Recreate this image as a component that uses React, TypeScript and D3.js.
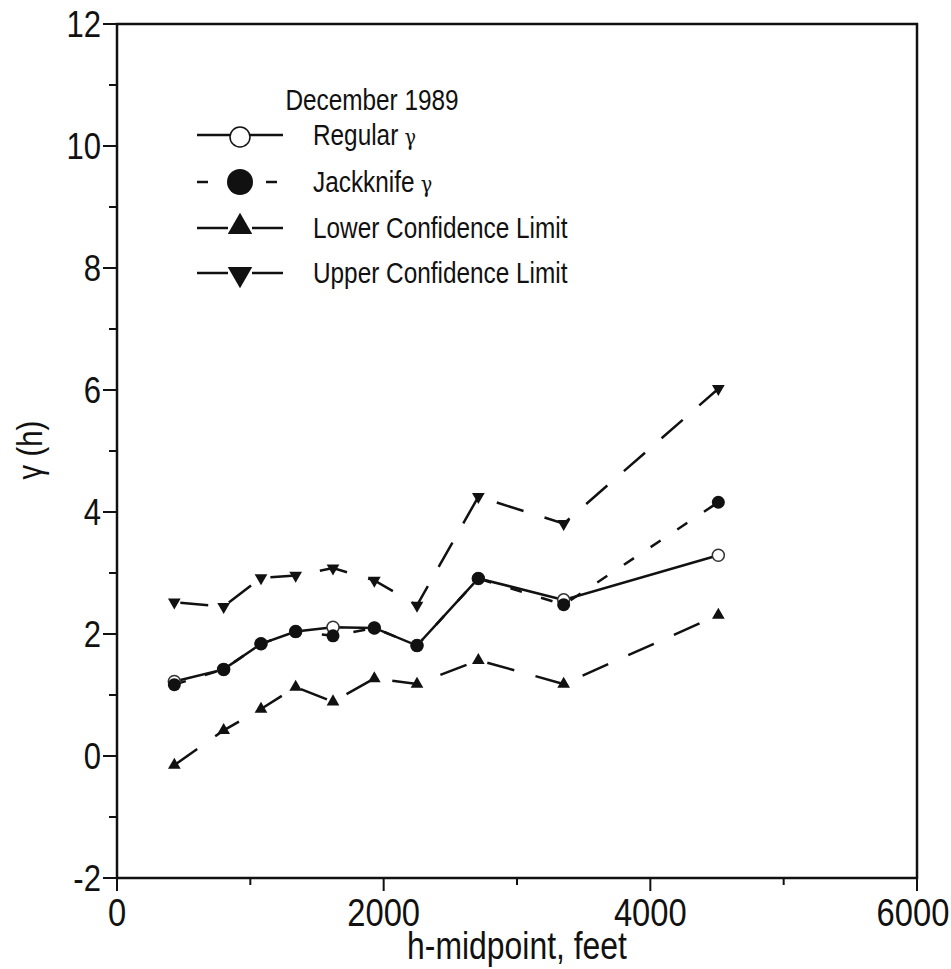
import React, { useEffect, useRef } from 'react';
import * as d3 from 'd3';

// h-midpoint (feet) for each lag class
const hMid = [430, 800, 1080, 1340, 1620, 1930, 2250, 2710, 3350, 4510];
const regularGamma = [1.22, 1.42, 1.84, 2.04, 2.11, 2.1, 1.81, 2.91, 2.56, 3.29];
const jackknifeGamma = [1.17, 1.42, 1.84, 2.04, 1.97, 2.1, 1.81, 2.91, 2.48, 4.16];
const lowerLimit = [-0.15, 0.42, 0.77, 1.13, 0.89, 1.27, 1.18, 1.57, 1.18, 2.31];
const upperLimit = [2.52, 2.45, 2.92, 2.96, 3.08, 2.88, 2.47, 4.25, 3.81, 6.02];

const xTicks = [0, 2000, 4000, 6000];
const xMinor = [1000, 3000, 5000];
const yTicks = [-2, 0, 2, 4, 6, 8, 10, 12];
const yMinor = [-1, 1, 3, 5, 7, 9, 11];

const legendItems = ['Regular', 'Jackknife', 'Lower Confidence Limit', 'Upper Confidence Limit'];

const FONT = '"Liberation Sans", Arial, sans-serif';
const SQUEEZE = 0.84; // the original lettering is condensed

function App() {
  const ref = useRef<SVGSVGElement>(null);

  useEffect(() => {
    document.body.style.margin = '0';
    const svg = d3.select(ref.current);
    svg.selectAll('*').remove();

    const x = d3.scaleLinear().domain([0, 6000]).range([117, 917]);
    const y = d3.scaleLinear().domain([-2, 12]).range([878, 24]);

    const g = svg.append('g');

    // narrow text helper
    const label = (parent: any, tx: number, ty: number, txt: string, size: number, anchor = 'start', rot = 0) =>
      parent.append('text')
        .attr('transform', `translate(${tx},${ty}) rotate(${rot}) scale(${SQUEEZE},1)`)
        .attr('text-anchor', anchor)
        .attr('font-family', FONT).attr('font-size', size).attr('fill', '#111')
        .text(txt);

    // frame
    g.append('rect')
      .attr('x', x(0)).attr('y', y(12))
      .attr('width', x(6000) - x(0)).attr('height', y(-2) - y(12))
      .attr('fill', 'none').attr('stroke', '#111').attr('stroke-width', 2.5);

    // x ticks
    g.selectAll('.xt').data(xTicks).enter().append('line')
      .attr('x1', d => x(d)).attr('x2', d => x(d))
      .attr('y1', y(-2)).attr('y2', y(-2) + 13)
      .attr('stroke', '#111').attr('stroke-width', 2);
    g.selectAll('.xm').data(xMinor).enter().append('line')
      .attr('x1', d => x(d)).attr('x2', d => x(d))
      .attr('y1', y(-2)).attr('y2', y(-2) + 7)
      .attr('stroke', '#111').attr('stroke-width', 2);
    xTicks.forEach(d => label(g, d === 6000 ? x(d) - 4 : x(d), 926, String(d), 39, 'middle'));

    // y ticks
    g.selectAll('.yt').data(yTicks).enter().append('line')
      .attr('x1', x(0) - 14).attr('x2', x(0))
      .attr('y1', d => y(d)).attr('y2', d => y(d))
      .attr('stroke', '#111').attr('stroke-width', 2);
    g.selectAll('.ym').data(yMinor).enter().append('line')
      .attr('x1', x(0) - 8).attr('x2', x(0))
      .attr('y1', d => y(d)).attr('y2', d => y(d))
      .attr('stroke', '#111').attr('stroke-width', 2);
    yTicks.forEach(d => label(g, 101, y(d) + 13, String(d), 37, 'end'));

    // axis titles
    label(g, 517, 959, 'h-midpoint, feet', 38, 'middle');
    label(g, 42, 450, '\u03b3 (h)', 35, 'middle', -90);

    const pts = (vals: number[]) => hMid.map((h, i) => [x(h), y(vals[i])] as [number, number]);
    const line = d3.line();

    // series lines
    g.append('path').attr('d', line(pts(upperLimit)))
      .attr('fill', 'none').attr('stroke', '#111').attr('stroke-width', 2.5)
      .attr('stroke-dasharray', '28 22').attr('stroke-dashoffset', -6);
    g.append('path').attr('d', line(pts(lowerLimit)))
      .attr('fill', 'none').attr('stroke', '#111').attr('stroke-width', 2.5)
      .attr('stroke-dasharray', '28 22');
    g.append('path').attr('d', line(pts(jackknifeGamma)))
      .attr('fill', 'none').attr('stroke', '#111').attr('stroke-width', 2.5)
      .attr('stroke-dasharray', '12 20');
    g.append('path').attr('d', line(pts(regularGamma)))
      .attr('fill', 'none').attr('stroke', '#111').attr('stroke-width', 2.5);

    // markers
    const triUp = d3.symbol().type(d3.symbolTriangle).size(70);
    g.selectAll('.lo').data(pts(lowerLimit)).enter().append('path')
      .attr('d', triUp()).attr('transform', d => `translate(${d[0]},${d[1]})`)
      .attr('fill', '#111');
    g.selectAll('.up').data(pts(upperLimit)).enter().append('path')
      .attr('d', triUp()).attr('transform', d => `translate(${d[0]},${d[1]}) rotate(180)`)
      .attr('fill', '#111');
    g.selectAll('.rg').data(pts(regularGamma)).enter().append('circle')
      .attr('cx', d => d[0]).attr('cy', d => d[1]).attr('r', 6)
      .attr('fill', 'white').attr('stroke', '#333').attr('stroke-width', 1.5);
    g.selectAll('.jk').data(pts(jackknifeGamma)).enter().append('circle')
      .attr('cx', d => d[0]).attr('cy', d => d[1]).attr('r', 6.5)
      .attr('fill', '#111');

    // legend
    const lg = g.append('g');
    label(lg, 372, 110, 'December 1989', 29, 'middle');

    const rowY = [135, 182, 228, 273];
    const mx = 240;
    legendItems.forEach((name, i) => {
      const ry = rowY[i];
      if (i === 0) {
        lg.append('line').attr('x1', 197).attr('x2', 283).attr('y1', ry).attr('y2', ry)
          .attr('stroke', '#111').attr('stroke-width', 2.5);
        lg.append('circle').attr('cx', mx).attr('cy', ry + 2).attr('r', 10)
          .attr('fill', 'white').attr('stroke', '#111').attr('stroke-width', 1.5);
      } else if (i === 1) {
        lg.append('line').attr('x1', 197).attr('x2', 208).attr('y1', ry).attr('y2', ry)
          .attr('stroke', '#111').attr('stroke-width', 2.5);
        lg.append('line').attr('x1', 266).attr('x2', 277).attr('y1', ry).attr('y2', ry)
          .attr('stroke', '#111').attr('stroke-width', 2.5);
        lg.append('circle').attr('cx', mx).attr('cy', ry).attr('r', 13).attr('fill', '#111');
      } else {
        lg.append('line').attr('x1', 197).attr('x2', 228).attr('y1', ry).attr('y2', ry)
          .attr('stroke', '#111').attr('stroke-width', 2.5);
        lg.append('line').attr('x1', 252).attr('x2', 283).attr('y1', ry).attr('y2', ry)
          .attr('stroke', '#111').attr('stroke-width', 2.5);
        const big = d3.symbol().type(d3.symbolTriangle).size(260);
        lg.append('path').attr('d', big())
          .attr('transform', i === 2 ? `translate(${mx},${ry - 1})` : `translate(${mx},${ry + 1}) rotate(180)`)
          .attr('fill', '#111');
      }
      const t = label(lg, 313, ry + 10, name, 29);
      if (i < 2) {
        t.append('tspan').attr('font-family', '"DejaVu Serif", serif').attr('font-size', 23).text(' \u03b3');
      }
    });
  }, []);

  return <svg ref={ref} width={951} height={969} style={{ display: 'block', background: 'white' }}></svg>;
}

export default App;
